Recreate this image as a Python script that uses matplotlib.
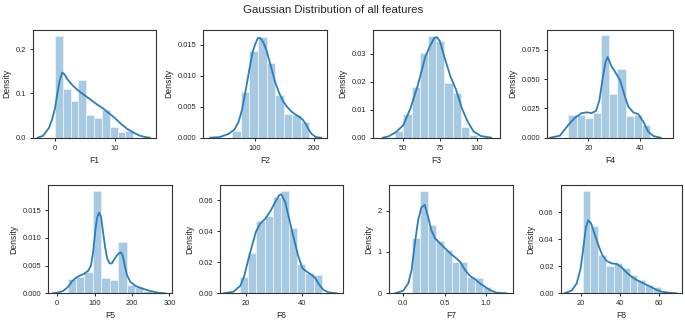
import matplotlib

matplotlib.use("Agg")
import matplotlib.pyplot as plt
import numpy as np

plt.rcParams["font.family"] = ["Liberation Sans", "DejaVu Sans"]

W, H = 685, 321
TITLE = "Gaussian Distribution of all features"
FEATURES = ["F1", "F2", "F3", "F4", "F5", "F6", "F7", "F8"]

# histogram bin edges and densities
F1_edges = [0, 1.3, 2.6, 3.9, 5.2, 6.5, 7.8, 9.1, 10.4, 11.7, 13.0]
F1_heights = [0.23, 0.11, 0.083, 0.13, 0.051, 0.044, 0.063, 0.025, 0.012, 0.015]
F2_edges = [61.5, 76, 90.5, 105, 119.5, 134, 148.5, 163, 177.5, 192]
F2_heights = [0.0011, 0.0073, 0.0140, 0.0162, 0.0120, 0.0069, 0.0038, 0.0037, 0.0025]
F3_edges = [44.5, 50.1, 55.7, 61.3, 66.9, 72.5, 78.1, 83.7, 89.3, 94.9, 100.5]
F3_heights = [0.0024, 0.0085, 0.018, 0.0305, 0.0366, 0.0348, 0.0195, 0.0159, 0.004, 0.001]
F4_edges = [12.3, 15.46, 18.62, 21.78, 24.94, 28.1, 31.26, 34.42, 37.58, 40.74, 43.9]
F4_heights = [0.0194, 0.0194, 0.0172, 0.0207, 0.0877, 0.037, 0.059, 0.0187, 0.0193, 0.011]
F5_edges = [27.7, 50.2, 72.7, 95.2, 117.7, 140.2, 162.7, 185.2, 207.7, 230.2, 252.7]
F5_heights = [0.0025, 0.0029, 0.0038, 0.01855, 0.0027, 0.0024, 0.0093, 0.0015, 0.0011, 0.0004]
F6_edges = [18, 20.88, 23.76, 26.64, 29.52, 32.4, 35.28, 38.16, 41.04, 43.92, 46.8]
F6_heights = [0.0105, 0.026, 0.0469, 0.0501, 0.0624, 0.0662, 0.0419, 0.0187, 0.0133, 0.0116]
F7_edges = [0.1, 0.197, 0.294, 0.391, 0.488, 0.585, 0.682, 0.779, 0.876, 0.973, 1.07]
F7_heights = [1.33, 2.48, 1.645, 1.266, 1.048, 0.766, 0.766, 0.403, 0.363, 0.145]
F8_edges = [21, 25, 29, 33, 37, 41, 45, 49, 53, 57, 61]
F8_heights = [0.0758, 0.050, 0.028, 0.0202, 0.0221, 0.0185, 0.0135, 0.0098, 0.0062, 0.0049]

# kde curves, sampled by eye
F1_kde_x = [-2.9, -2.0, -1.0, -0.5, 0.0, 0.4, 0.8, 1.2, 1.6, 2.0, 2.5, 3.0, 4.0, 5.0,
            6.0, 7.0, 8.0, 9.0, 10.0, 11.0, 12.0, 13.0, 14.0, 15.0, 15.8]
F1_kde_y = [0.0, 0.004, 0.022, 0.04, 0.066, 0.1, 0.13, 0.147, 0.143, 0.133, 0.125, 0.117,
            0.105, 0.095, 0.085, 0.075, 0.066, 0.055, 0.044, 0.031, 0.02, 0.012, 0.005,
            0.0015, 0.0]
F2_kde_x = [24, 40, 55, 65, 72, 78, 84, 90, 96, 100, 105, 110, 115, 120, 127, 134, 141,
            148, 155, 162, 169, 176, 181, 186, 191, 196, 203, 212]
F2_kde_y = [0, 0.0001, 0.0006, 0.0013, 0.0025, 0.0045, 0.0075, 0.0108, 0.0138, 0.015,
            0.0161, 0.016, 0.0152, 0.0139, 0.0115, 0.009, 0.0072, 0.0058, 0.0049, 0.0042,
            0.0037, 0.0033, 0.0029, 0.0022, 0.0013, 0.0006, 0.0001, 0]
F3_kde_x = [36, 40, 45, 50, 55, 60, 65, 68, 71, 73, 75, 78, 82, 86, 90, 94, 98, 103, 110]
F3_kde_y = [0, 0.0005, 0.002, 0.0045, 0.0107, 0.019, 0.029, 0.0326, 0.0357, 0.036,
            0.0345, 0.029, 0.0222, 0.0172, 0.0105, 0.0057, 0.0022, 0.0006, 0]
F4_kde_x = [5.2, 9.0, 12.3, 14.8, 17.4, 19.4, 21.3, 23.0, 24.3, 25.5, 26.7, 27.5, 29.0,
            31.0, 32.3, 34.2, 35.5, 37.4, 39.4, 41.3, 43.2, 45.2, 48.0]
F4_kde_y = [0, 0.0017, 0.011, 0.017, 0.021, 0.0217, 0.021, 0.023, 0.032, 0.05, 0.065,
            0.069, 0.061, 0.054, 0.049, 0.035, 0.0265, 0.0217, 0.02, 0.0137, 0.0051,
            0.0014, 0]
F5_kde_x = [-12, 0, 15, 28, 40, 50, 60, 71, 83, 90, 96, 102, 107, 112, 117, 122, 128,
            134, 140, 146, 152, 158, 164, 170, 175, 180, 186, 195, 210, 230, 250, 270, 288]
F5_kde_y = [0, 0.0001, 0.0004, 0.0011, 0.0022, 0.0028, 0.0032, 0.0035, 0.0041, 0.005,
            0.0075, 0.0115, 0.0138, 0.0146, 0.0138, 0.0113, 0.0083, 0.0062, 0.0054,
            0.0054, 0.0061, 0.0067, 0.0072, 0.0074, 0.0068, 0.0052, 0.0034, 0.0021,
            0.0013, 0.0008, 0.0004, 0.0001, 0]
F6_kde_x = [12.1, 15.6, 18, 19.4, 20.7, 22.1, 23.6, 25.1, 26.8, 28.6, 30.4, 31.8, 32.5,
            33.9, 35.4, 36.8, 38.4, 40, 41.5, 43.3, 44.5, 46, 47.4, 49.2, 52.1]
F6_kde_y = [0, 0.001, 0.0047, 0.0108, 0.0204, 0.03, 0.0398, 0.045, 0.048, 0.0527, 0.059,
            0.0634, 0.0639, 0.059, 0.0473, 0.0366, 0.0247, 0.0161, 0.014, 0.0118, 0.0097,
            0.0054, 0.0022, 0.0006, 0]
F7_kde_x = [-0.1, 0.0, 0.06, 0.1, 0.14, 0.18, 0.22, 0.26, 0.3, 0.34, 0.385, 0.445, 0.506,
            0.567, 0.628, 0.688, 0.749, 0.81, 0.87, 0.93, 0.99, 1.05, 1.13, 1.25]
F7_kde_y = [0, 0.065, 0.24, 0.56, 1.21, 1.77, 2.08, 2.14, 1.85, 1.53, 1.33, 1.21, 1.09,
            0.97, 0.87, 0.766, 0.565, 0.42, 0.34, 0.24, 0.16, 0.08, 0.016, 0]
F8_kde_x = [11.7, 15.4, 18, 20, 21.4, 22.7, 23.9, 25.3, 27.3, 29, 31, 33.3, 35.8, 38.4,
            40.9, 43.5, 46, 48.6, 51.1, 53.7, 56.3, 58.8, 61.4, 64.8, 69]
F8_kde_y = [0, 0.002, 0.0074, 0.0185, 0.034, 0.049, 0.054, 0.0517, 0.043, 0.0357, 0.0283,
            0.0239, 0.0221, 0.0217, 0.0192, 0.0153, 0.0123, 0.0098, 0.0081, 0.0062,
            0.0044, 0.0025, 0.0012, 0.0005, 0]

# tick labels shown on each panel
F1_xticks, F1_yticks = [0, 10], [0.0, 0.1, 0.2]
F2_xticks, F2_yticks = [100, 200], [0.000, 0.005, 0.010, 0.015]
F3_xticks, F3_yticks = [50, 75, 100], [0.00, 0.01, 0.02, 0.03]
F4_xticks, F4_yticks = [20, 40], [0.000, 0.025, 0.050, 0.075]
F5_xticks, F5_yticks = [0, 100, 200, 300], [0.000, 0.005, 0.010, 0.015]
F6_xticks, F6_yticks = [20, 40], [0.00, 0.02, 0.04, 0.06]
F7_xticks, F7_yticks = [0.0, 0.5, 1.0], [0, 1, 2]
F8_xticks, F8_yticks = [20, 40, 60], [0.00, 0.02, 0.04, 0.06]

panels = [
    (F1_edges, F1_heights, F1_kde_x, F1_kde_y, F1_xticks, F1_yticks, "%.1f", "%d"),
    (F2_edges, F2_heights, F2_kde_x, F2_kde_y, F2_xticks, F2_yticks, "%.3f", "%d"),
    (F3_edges, F3_heights, F3_kde_x, F3_kde_y, F3_xticks, F3_yticks, "%.2f", "%d"),
    (F4_edges, F4_heights, F4_kde_x, F4_kde_y, F4_xticks, F4_yticks, "%.3f", "%d"),
    (F5_edges, F5_heights, F5_kde_x, F5_kde_y, F5_xticks, F5_yticks, "%.3f", "%d"),
    (F6_edges, F6_heights, F6_kde_x, F6_kde_y, F6_xticks, F6_yticks, "%.2f", "%d"),
    (F7_edges, F7_heights, F7_kde_x, F7_kde_y, F7_xticks, F7_yticks, "%d", "%.1f"),
    (F8_edges, F8_heights, F8_kde_x, F8_kde_y, F8_xticks, F8_yticks, "%.2f", "%d"),
]

# axes boxes in pixels: left, top, right, bottom
boxes = [
    (33.3, 30, 156, 137.7), (203.3, 30, 326.7, 137.7),
    (373.3, 30, 500, 137.7), (547.3, 30, 673.3, 137.7),
    (48.3, 185, 171.7, 293.3), (220, 185, 342.7, 293.3),
    (389, 185, 512.7, 293.3), (560.7, 185, 681.7, 293.3),
]
limits = [
    ((-3.6, 16.8), 0.243), ((12.4, 221.5), 0.01737),
    ((29.5, 116), 0.0386), ((4.13, 52.9), 0.0921),
    ((-24, 306), 0.01958), ((10.9, 54.2), 0.0699),
    ((-0.174, 1.328), 2.62), ((9.8, 71.6), 0.08),
]

BLUE = "#2a7fba"
BAR = "#a7c9e2"
DARK = "#262626"

fig = plt.figure(figsize=(W / 100, H / 100), dpi=100)
fig.patch.set_facecolor("white")

for name, panel, box, lim in zip(FEATURES, panels, boxes, limits):
    edges, heights, kx, ky, xt, yt, yfmt, xfmt = panel
    l, t, r, b = box
    ax = fig.add_axes([l / W, 1 - b / H, (r - l) / W, (b - t) / H])

    edges = np.array(edges)
    ax.bar(edges[:-1], heights, width=np.diff(edges), align="edge",
           color=BAR, edgecolor="#e8f1f8", linewidth=0.6)
    ax.plot(kx, ky, color=BLUE, linewidth=1.3)

    ax.set_xlim(*lim[0])
    ax.set_ylim(0, lim[1])
    ax.set_xticks(xt)
    ax.set_xticklabels([xfmt % v for v in xt])
    ax.set_yticks(yt)
    ax.set_yticklabels([yfmt % v for v in yt])
    ax.tick_params(labelsize=5.4, length=2.5, width=0.7, pad=2.5,
                   colors=DARK, direction="out")
    for sp in ax.spines.values():
        sp.set_color("#333333")
        sp.set_linewidth(0.8)
    ax.set_xlabel(name, fontsize=6.2, color=DARK, labelpad=3)
    ax.set_ylabel("Density", fontsize=6.2, color=DARK, labelpad=3)

fig.text(333 / W, 1 - 12.7 / H, TITLE, ha="center", va="baseline",
         fontsize=8.2, color=DARK)

fig.savefig("out.png", dpi=100)
